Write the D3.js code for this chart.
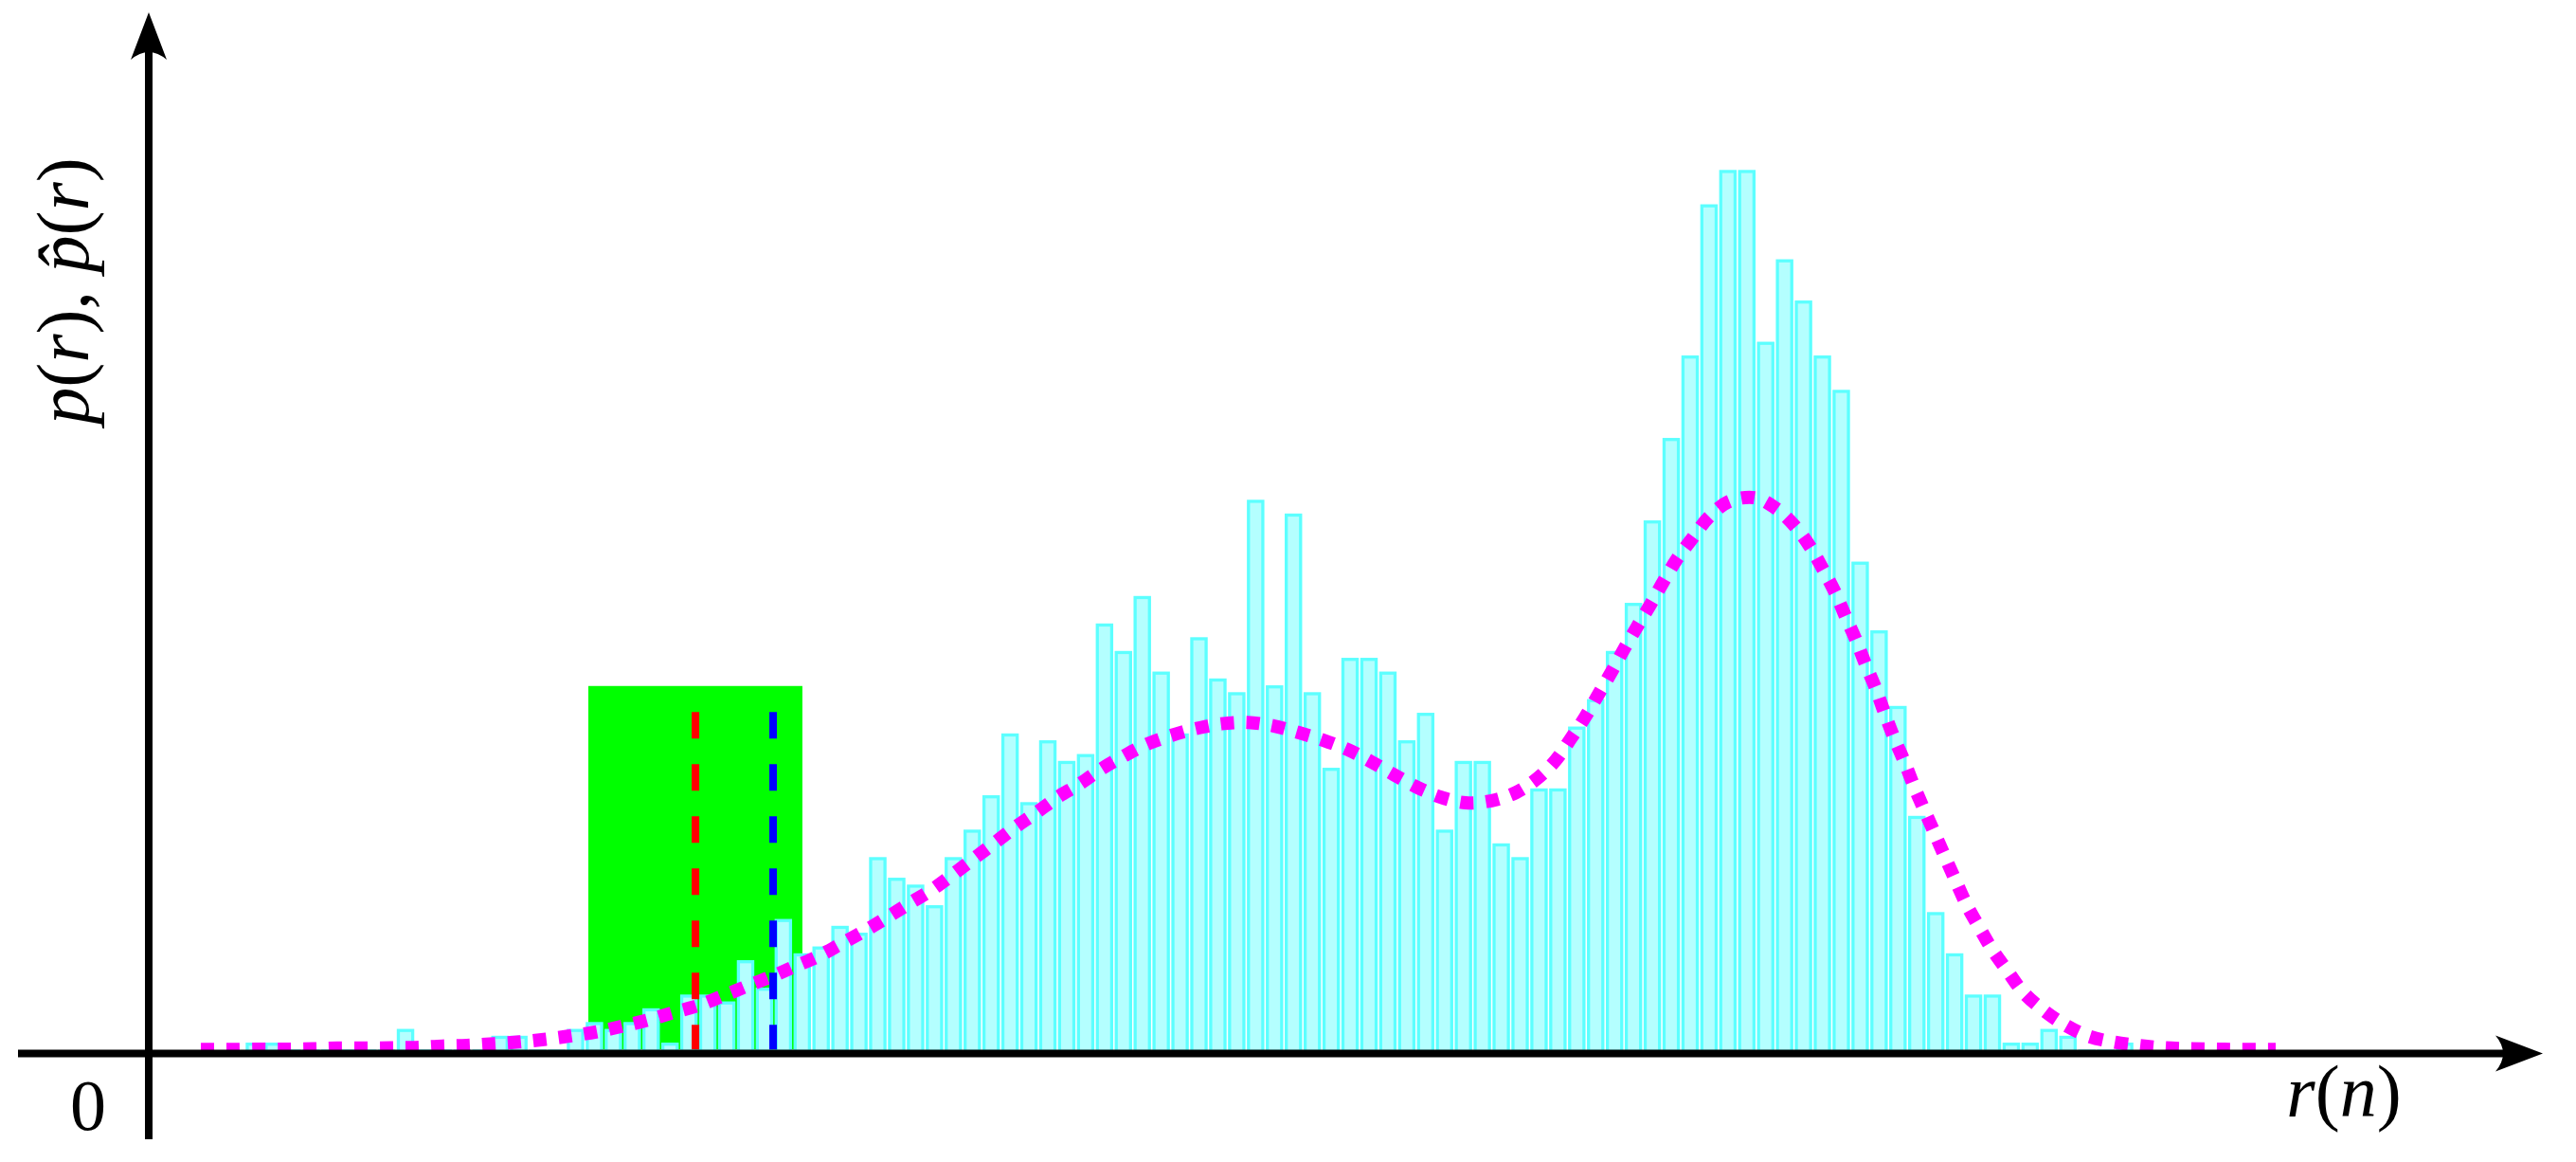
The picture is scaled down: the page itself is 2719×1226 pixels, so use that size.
<!DOCTYPE html>
<html>
<head>
<meta charset="utf-8">
<script src="https://cdn.jsdelivr.net/npm/d3@7/dist/d3.min.js"></script>
<style>
  html, body { margin: 0; padding: 0; background: #ffffff; }
  svg { display: block; }
</style>
</head>
<body>
<script>
// ---------- data ----------
// histogram: 100 bins, counts per bin (bin index 0..99)
const binCounts = [
  1, 1, 0, 0, 0, 0, 0, 0, 3, 0,
  0, 0, 0, 2, 2, 0, 0, 3, 4, 3,
  4, 6, 1, 8, 8, 7, 13, 9, 19, 14,
  15, 18, 17, 28, 25, 24, 21, 28, 32, 37,
  46, 36, 45, 42, 43, 62, 58, 66, 55, 46,
  60, 54, 52, 80, 53, 78, 52, 41, 57, 57,
  55, 45, 49, 32, 42, 42, 30, 28, 38, 38,
  47, 51, 58, 65, 77, 89, 101, 123, 128, 128,
  103, 115, 109, 101, 96, 71, 61, 50, 34, 20,
  14, 8, 8, 1, 1, 3, 2, 0, 0, 1
];

// estimated density p(r) (scaled to counts), sampled along r (bin units)
const curveR = [
  -2.37, -1.02, 0.74, 2.19, 3.60, 4.85, 6.26, 7.66, 9.02, 10.42,
  11.72, 13.13, 14.48, 15.89, 17.24, 18.64, 19.95, 21.30, 22.66, 23.96,
  25.27, 26.52, 27.82, 29.08, 30.33, 31.54, 32.79, 33.94, 35.10, 36.30,
  37.40, 38.50, 39.61, 40.71, 41.82, 42.97, 44.12, 45.28, 46.48, 47.68,
  48.99, 50.29, 51.65, 53.05, 54.40, 55.76, 57.06, 58.37, 59.57, 60.78,
  61.98, 63.29, 64.59, 65.95, 67.25, 68.40, 69.35, 70.16, 70.91, 71.61,
  72.31, 72.97, 73.67, 74.37, 75.07, 75.77, 76.58, 77.43, 78.48, 79.88,
  81.03, 82.03, 82.83, 83.49, 84.14, 84.69, 85.24, 85.74, 86.29, 86.75,
  87.25, 87.80, 88.30, 88.85, 89.40, 89.96, 90.51, 91.11, 91.76, 92.46,
  93.27, 94.07, 95.12, 96.23, 97.48, 98.84, 100.19, 101.54, 102.95, 104.30,
  105.65, 107.46
];
const curveP = [
  0.0, 0.0, 0.05, 0.05, 0.1, 0.2, 0.2, 0.25, 0.3, 0.5,
  0.6, 0.85, 1.1, 1.5, 2.0, 2.6, 3.4, 4.3, 5.4, 6.4,
  7.8, 9.2, 10.6, 12.1, 13.6, 15.4, 17.3, 19.2, 21.2, 23.2,
  25.4, 27.7, 30.0, 32.3, 34.4, 36.7, 38.6, 40.8, 42.7, 44.4,
  45.7, 46.7, 47.4, 47.6, 47.1, 46.1, 45.0, 43.6, 41.9, 40.0,
  38.2, 36.7, 35.9, 36.2, 37.4, 39.5, 42.1, 45.3, 48.4, 51.7,
  55.0, 58.3, 61.6, 64.8, 68.2, 71.4, 74.4, 77.4, 79.7, 80.3,
  78.7, 76.1, 73.1, 69.9, 66.5, 63.0, 59.6, 56.1, 52.5, 49.0,
  45.4, 41.9, 38.4, 34.9, 31.5, 28.0, 24.6, 21.0, 17.8, 14.5,
  11.4, 8.4, 5.8, 3.7, 2.0, 1.1, 0.6, 0.25, 0.1, 0.05,
  0.0, 0.0
];

// highlighted window and two marker positions (bin units / count units)
const windowRange = [18.14, 29.47];
const windowHeight = 52.9;
const markerRed = 23.81;
const markerBlue = 27.92;
const markerTop = 49.1;

// axis texts
const originLabel = "0";

// ---------- layout ----------
const W = 2719, H = 1226;
const originX = 157, axisY = 1111.5;

const svg = d3.select("body").append("svg")
  .attr("width", W).attr("height", H)
  .attr("viewBox", `0 0 ${W} ${H}`);

svg.append("rect").attr("width", W).attr("height", H).attr("fill", "#ffffff");

const x = d3.scaleLinear().domain([0, 100]).range([259.3, 2253.3]);
const y = d3.scaleLinear().domain([0, 130]).range([1107.3, 1107.3 - 130 * 7.25]);

// green window
svg.append("rect")
  .attr("x", x(windowRange[0]))
  .attr("y", y(windowHeight))
  .attr("width", x(windowRange[1]) - x(windowRange[0]))
  .attr("height", y(0) - y(windowHeight))
  .attr("fill", "#00ff00");

// histogram bars
const sw = 3.3;
svg.append("g").selectAll("rect")
  .data(binCounts)
  .join("rect")
  .attr("x", (d, i) => x(i) + sw / 2)
  .attr("width", (d, i) => x(i + 1) - x(i) - sw - 1.5)
  .attr("y", d => y(d) + sw / 2)
  .attr("height", d => Math.max(1, y(0) - y(d) - sw / 2 + 2))
  .attr("fill", "#b4ffff")
  .attr("stroke", "#5cffff")
  .attr("stroke-width", sw);

// density curve
const line = d3.line()
  .x((d, i) => x(curveR[i]))
  .y((d, i) => y(curveP[i]))
  .curve(d3.curveCatmullRom.alpha(0.5));

svg.append("path")
  .datum(curveR)
  .attr("d", line)
  .attr("fill", "none")
  .attr("stroke", "#ff00ff")
  .attr("stroke-width", 14)
  .attr("stroke-dasharray", "14 13")
  .attr("stroke-linecap", "butt");

// marker lines
[[markerRed, "#ff0000"], [markerBlue, "#0000ff"]].forEach(([r, c]) => {
  svg.append("line")
    .attr("x1", x(r)).attr("x2", x(r))
    .attr("y1", y(markerTop)).attr("y2", y(0))
    .attr("stroke", c)
    .attr("stroke-width", 8)
    .attr("stroke-dasharray", "28 27");
});

// axes
const axisG = svg.append("g");
axisG.append("line")
  .attr("x1", 19).attr("x2", 2645)
  .attr("y1", axisY).attr("y2", axisY)
  .attr("stroke", "#000").attr("stroke-width", 8);
axisG.append("line")
  .attr("x1", originX).attr("x2", originX)
  .attr("y1", 1202).attr("y2", 55)
  .attr("stroke", "#000").attr("stroke-width", 8);
// arrow heads
axisG.append("path")
  .attr("d", `M2684,${axisY} L2634,${axisY - 19} Q2650,${axisY} 2634,${axisY + 19} Z`)
  .attr("fill", "#000");
axisG.append("path")
  .attr("d", `M${originX},13 L${originX - 19},63 Q${originX},47 ${originX + 19},63 Z`)
  .attr("fill", "#000");

// texts
const font = "'Liberation Serif', 'DejaVu Serif', serif";
svg.append("text")
  .attr("x", 93).attr("y", 1192)
  .attr("text-anchor", "middle")
  .attr("font-family", font).attr("font-size", 76)
  .attr("fill", "#000")
  .text(originLabel);

function mathText(sel, parts) {
  parts.forEach(([t, it]) => {
    sel.append("tspan").attr("font-style", it ? "italic" : "normal").text(t);
  });
}

const xl = svg.append("text")
  .attr("x", 2474).attr("y", 1178)
  .attr("text-anchor", "middle")
  .attr("font-family", font).attr("font-size", 78)
  .attr("fill", "#000");
mathText(xl, [["r", true], ["(", false], ["n", true], [")", false]]);

const yl = svg.append("text")
  .attr("transform", "translate(93,307) rotate(-90)")
  .attr("text-anchor", "middle")
  .attr("font-family", font).attr("font-size", 78)
  .attr("fill", "#000");
mathText(yl, [["p", true], ["(", false], ["r", true], ["), ", false], ["p\u0302", true], ["(", false], ["r", true], [")", false]]);
</script>
</body>
</html>
